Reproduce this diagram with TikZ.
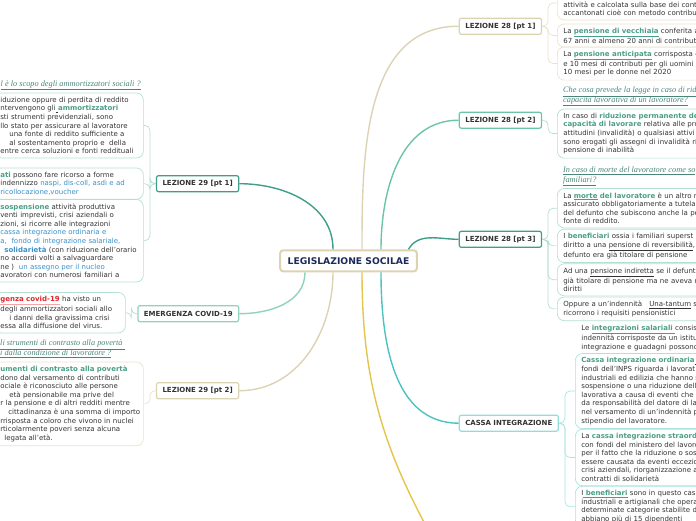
\documentclass[tikz,border=0pt]{standalone}
\usepackage{fontspec}
\setmainfont{DejaVu Sans}
\newfontfamily\qfont{Liberation Serif}
\usetikzlibrary{positioning}

\definecolor{bodytext}{HTML}{333333}
\definecolor{rootnavy}{HTML}{1C2B5A}
\definecolor{tealdark}{HTML}{3F9E88}
\definecolor{tealmid}{HTML}{6CC4A8}
\definecolor{teallight}{HTML}{8DD3BD}
\definecolor{cbeige}{HTML}{DCD3B3}
\definecolor{cyanline}{HTML}{4CC3C1}
\definecolor{cyanlight}{HTML}{93DEDB}
\definecolor{yellowline}{HTML}{E3C44C}
\definecolor{leafteal}{HTML}{B3DFD1}
\definecolor{leafbeige}{HTML}{E9E2CB}
\definecolor{leafcyan}{HTML}{A8E4E1}
\definecolor{accent}{HTML}{4A9E86}
\definecolor{linkblue}{HTML}{3B8FC7}
\definecolor{covid}{HTML}{E3262B}
\definecolor{covidbar}{HTML}{F3A5A5}
\definecolor{question}{HTML}{4A8677}

\newcommand\kw[1]{\textcolor{accent}{\textbf{#1}}}
\newcommand\ukw[1]{\textcolor{accent}{\underline{\textbf{#1}}}}
\newcommand\lnk[1]{\textcolor{linkblue}{#1}}

\tikzset{
x=1pt, y=1pt,
every node/.style={text=bodytext},
topic/.style={draw, fill=white, rounded corners=2pt, line width=1.2pt,
  font=\bfseries\fontsize{7}{8}\selectfont, inner xsep=6pt, minimum height=16pt},
leaf/.style={draw, rounded corners=7pt, line width=0.7pt, align=left,
  font=\fontsize{7}{8.6}\selectfont, inner xsep=6pt, inner ysep=4pt},
ask/.style={align=left, inner sep=0pt, text=question,
  font=\qfont\itshape\fontsize{8.3}{9.7}\selectfont},
}

\begin{document}
\begin{tikzpicture}
    [link/.style={line width=1.4pt},
    fan/.style={line width=0.7pt, rounded corners=5pt}]

    \useasboundingbox (0,0) rectangle (696,-520);
    \clip (0,0) rectangle (696,-520);

    \node [draw=cbeige, line width=2pt, fill=white, rounded corners=3pt, text=rootnavy,
      font=\bfseries\fontsize{9.2}{11}\selectfont, minimum height=21pt, inner xsep=7.5pt]
      (root) at (348.5,-260.8) {LEGISLAZIONE SOCILAE};

    \node [topic, draw=cbeige, anchor=west] (l28a) at (458.7,-26.2) {LEZIONE 28 [pt 1]};
    \node [topic, draw=tealmid, anchor=west] (l28b) at (458.7,-120.2) {LEZIONE 28 [pt 2]};
    \node [topic, draw=tealdark, anchor=west] (l28c) at (458.7,-239.3) {LEZIONE 28 [pt 3]};
    \node [topic, draw=cyanlight, anchor=west] (cassa) at (458.7,-423.2) {CASSA INTEGRAZIONE};
    \node [topic, draw=tealdark, anchor=east] (l29a) at (239.3,-183.7) {LEZIONE 29 [pt 1]};
    \node [topic, draw=teallight, anchor=east] (covid) at (239.3,-313.7) {EMERGENZA COVID-19};
    \node [topic, draw=cbeige, anchor=east] (l29b) at (239.3,-390.7) {LEZIONE 29 [pt 2]};
    \coordinate (l30) at (445,-560);

    % lezione 28 [pt 1]
    \node [leaf, draw=leafbeige, anchor=north west, text width=180pt] (p1) at (557,14.3)
    {
        \mbox{}\\
        \mbox{}\\
        attività e calcolata sulla base dei cont\\
        accantonati cioè con metodo contribut
    };

    \node [leaf, draw=leafbeige, anchor=north west, text width=180pt] (p2) at (557,-23.6)
    {
        La \ukw{pensione di vecchiaia} conferita a\\
        67 anni e almeno 20 anni di contribut
    };

    \node [leaf, draw=leafbeige, anchor=north west, text width=180pt] (p3) at (557,-46.6)
    {
        La \ukw{pensione anticipata} corrisposta c\\
        e 10 mesi di contributi per gli uomini\\
        10 mesi per le donne nel 2020
    };

    % lezione 28 [pt 2]
    \node [ask, anchor=north west] (q2) at (563,-86.7)
    {
        \underline{Che cosa prevede la legge in caso di rid}\\
        \underline{capacità lavorativa di un lavoratore?}
    };

    \node [leaf, draw=leafteal, anchor=north west, text width=180pt] (r2a) at (557,-108.6)
    {
        In caso di \kw{riduzione permanente de}\\
        \kw{capacità di lavorare} relativa alle pro\\
        attitudini (invalidità) o qualsiasi attivi\\
        sono erogati gli assegni di invalidità ri\\
        pensione di inabilità
    };

    % lezione 28 [pt 3]
    \node [ask, anchor=north west] (q3) at (563,-166.8)
    {
        \underline{In caso di morte del lavoratore come so}\\
        \underline{familiari?}
    };

    \node [leaf, draw=leafteal, anchor=north west, text width=180pt] (r3a) at (557,-188.1)
    {
        La \ukw{morte} \kw{del lavoratore} è un altro r\\
        assicurato obbligatoriamente a tutela\\
        del defunto che subiscono anche la pe\\
        fonte di reddito.
    };

    \node [leaf, draw=leafteal, text width=180pt] (r3b) [below=0.5pt of r3a.south west, anchor=north west]
    {
        I \kw{beneficiari} ossia i familiari superst\\
        diritto a una \underline{pensione di reversibilità},\\
        defunto era già titolare di pensione
    };

    \node [leaf, draw=leafteal, text width=180pt] (r3c) [below=0.5pt of r3b.south west, anchor=north west]
    {
        Ad una \underline{pensione indiretta} se il defunt\\
        già titolare di pensione ma ne aveva r\\
        diritti
    };

    \node [leaf, draw=leafteal, text width=180pt] (r3d) [below=0.5pt of r3c.south west, anchor=north west]
    {
        Oppure a un'indennità\ \ \ \underline{Una-tantum} s\\
        ricorrono i requisiti pensionistici
    };

    % cassa integrazione
    \node [leaf, draw=none, anchor=north west, text width=180pt] (c0) at (575,-320.9)
    {
        Le \ukw{integrazioni salariali\ }consis\\
        indennità corrisposte da un istitu\\
        integrazione e guadagni possono
    };

    \node [leaf, draw=leafcyan, anchor=north west, text width=180pt] (c1) at (575,-353.2)
    {
        \kw{Cassa integrazione ordinaria}\underline{\ }\\
        fondi dell'INPS riguarda i lavorat\\
        industriali ed edilizia che hanno s\\
        sospensione o una riduzione dell'\\
        lavorativa a causa di eventi che n\\
        da responsabilità del datore di la\\
        nel versamento di un'indennità p\\
        stipendio del lavoratore.
    };

    \node [leaf, draw=leafcyan, text width=180pt] (c2) [below=0pt of c1.south west, anchor=north west]
    {
        La \kw{cassa integrazione straord}\\
        con fondi del ministero del lavoro\\
        per il fatto che la riduzione o sos\\
        essere causata da eventi eccezio\\
        crisi aziendali, riorganizzazione a\\
        contratti di solidarietà
    };

    \node [leaf, draw=leafcyan, text width=180pt] (c3) [below=0pt of c2.south west, anchor=north west]
    {
        I\ukw{\ beneficiari} sono in questo cas\\
        industriali e artigianali che opera\\
        determinate categorie stabilite d\\
        abbiano più di 15 dipendenti
    };

    % lezione 29 [pt 1]
    \node [ask, anchor=north west] (q1) at (0.5,-80.3)
    {
        \underline{l è lo scopo degli ammortizzatori sociali ?}
    };

    \node [leaf, draw=leafteal, anchor=north west, text width=137pt] (a1) at (-6,-92.6)
    {
        iduzione oppure di perdita di reddito\\
        ntervengono gli\underline{\ }\kw{ammortizzatori}\\
        sti strumenti previdenziali, sono\\
        llo stato per assicurare al lavoratore\\
        \hspace*{9pt}una fonte di reddito sufficiente a\\
        \hspace*{9pt}al sostentamento proprio e\ \ della\\
        entre cerca soluzioni e fonti reddituali
    };

    \node [leaf, draw=leafteal, anchor=north west, text width=137pt] (a2) at (-6,-167.6)
    {
        \kw{ati} possono fare ricorso a forme\\
        indennizzo \lnk{naspi, dis-coll, asdi e ad}\\
        \lnk{ricollocazione,voucher}
    };

    \node [leaf, draw=leafteal, anchor=north west, text width=137pt] (a3) at (-6,-199.1)
    {
        \kw{sospensione} attività produttiva\\
        venti imprevisti, crisi aziendali o\\
        zioni, si ricorre alle integrazioni\\
        \lnk{cassa integrazione ordinaria e}\\
        \lnk{a,\ \ fondo di integrazione salariale,}\\
        \hspace*{4pt}\lnk{\textbf{solidarietà}} (con riduzione dell'orario\\
        no accordi volti a salvaguardare\\
        ne )\ \ \lnk{un assegno per il nucleo}\\
        avoratori con numerosi familiari a
    };

    % emergenza covid-19
    \node [leaf, draw=leafteal, anchor=north west, text width=119pt] (e1) at (-6,-292.1)
    {
        \textcolor{covidbar}{\underline{\textcolor{covid}{\textbf{genza covid-19}}}} ha visto un\\
        degli ammortizzatori sociali allo\\
        \hspace*{9pt}i danni della gravissima crisi\\
        essa alla diffusione del virus.
    };

    % lezione 29 [pt 2]
    \node [ask, anchor=north west] (q4) at (0,-340)
    {
        \underline{li strumenti di contrasto alla povertà\ }\\
        \underline{i dalla condizione di lavoratore ?}
    };

    \node [leaf, draw=leafbeige, anchor=north west, text width=137pt] (d1) at (-6,-361.6)
    {
        \kw{umenti di contrasto alla povertà}\\
        dono dal versamento di contributi\\
        ociale è riconosciuto alle persone\\
        \hspace*{9pt}età pensionabile ma prive del\\
        r la pensione e di altri redditi mentre\\
        \hspace*{8pt}\mbox{cittadinanza è una somma di importo}\\
        rrisposta a coloro che vivono in nuclei\\
        rticolarmente poveri senza alcuna\\
        \hspace*{4pt}legata all'età.
    };

    \draw [link, cbeige] ([xshift=13.5pt]root.north) to[out=90,in=180] (l28a.west);
    \draw [link, tealmid] ([xshift=32.5pt]root.north) to[out=90,in=180] (l28b.west);
    \draw [link, tealdark] ([xshift=60pt]root.north) to[out=60,in=180] (l28c.west);
    \draw [link, cyanline] ([xshift=32.5pt]root.south) to[out=270,in=180] (cassa.west);
    \draw [link, yellowline] ([xshift=13.5pt]root.south) to[out=270,in=120] (l30);
    \draw [link, tealdark] ([xshift=-15.5pt]root.north) to[out=90,in=0] (l29a.east);
    \draw [link, teallight] ([xshift=-43.5pt]root.south) to[out=270,in=0] (covid.east);
    \draw [link, cbeige] ([xshift=-15.5pt]root.south) to[out=270,in=0] (l29b.east);

    \draw [fan, leafbeige] (l28a.east) -- ++(6,0) |- (p1.west);
    \draw [fan, leafbeige] (l28a.east) -- ++(6,0) |- (p2.west);
    \draw [fan, leafbeige] (l28a.east) -- ++(6,0) |- (p3.west);
    \draw [fan, leafteal] (l28b.east) -- ++(6,0) |- (r2a.west);
    \draw [fan, leafteal] (l28c.east) -- ++(6,0) |- (r3a.west);
    \draw [fan, leafteal] (l28c.east) -- ++(6,0) |- (r3b.west);
    \draw [fan, leafteal] (l28c.east) -- ++(6,0) |- (r3c.west);
    \draw [fan, leafteal] (l28c.east) -- ++(6,0) |- (r3d.west);
    \draw [fan, leafcyan] (cassa.east) -- ++(6,0) |- (c1.west);
    \draw [fan, leafcyan] (cassa.east) -- ++(6,0) |- (c2.west);
    \draw [fan, leafcyan] (cassa.east) -- ++(6,0) |- (c3.west);
    \draw [fan, leafteal] (l29a.west) -- ++(-6,0) |- (a1.east);
    \draw [fan, leafteal] (l29a.west) -- ++(-6,0) |- (a2.east);
    \draw [fan, leafteal] (l29a.west) -- ++(-6,0) |- (a3.east);
    \draw [fan, leafteal] (covid.west) -- ++(-6,0) |- (e1.east);
    \draw [fan, leafbeige] (l29b.west) -- ++(-6,0) |- (d1.east);

\end{tikzpicture}
\end{document}
